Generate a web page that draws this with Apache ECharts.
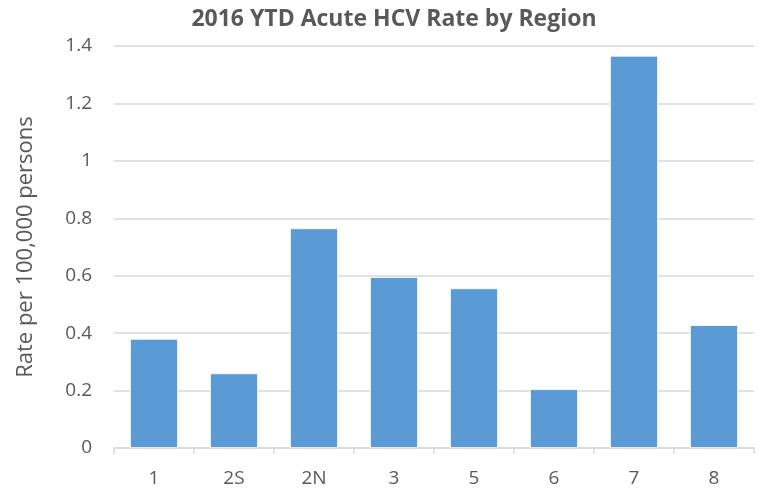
<!DOCTYPE html>
<html>
<head>
<meta charset="utf-8">
<script src="https://cdn.jsdelivr.net/npm/echarts@6/dist/echarts.min.js"></script>
<style>html,body{margin:0;padding:0;background:#fff;}#c{width:759px;height:500px;}</style>
</head>
<body>
<div id="c"></div>
<script>
var categories = ['1', '2S', '2N', '3', '5', '6', '7', '8'];
var rates = [0.38, 0.26, 0.765, 0.595, 0.556, 0.205, 1.366, 0.428];
var yTicks = { min: 0, max: 1.4, interval: 0.2 };
var titleText = '2016 YTD Acute HCV Rate by Region';
var yName = 'Rate per 100,000 persons';

var chart = echarts.init(document.getElementById('c'), null, { renderer: 'canvas' });
chart.setOption({
  animation: false,
  backgroundColor: '#fff',
  title: {
    text: titleText,
    left: 389, top: 3, textAlign: 'center',
    textStyle: { fontFamily: 'Open Sans', fontWeight: 'bold', fontSize: 23, color: '#595959' }
  },
  grid: { left: 114, right: 5, top: 46, bottom: 52, containLabel: false },
  xAxis: {
    type: 'category',
    data: categories,
    axisLine: { show: true, lineStyle: { color: '#d9d9d9', width: 1.5 } },
    axisTick: { show: true, length: 6, lineStyle: { color: '#d9d9d9', width: 1.5 } },
    axisLabel: { color: '#595959', fontFamily: 'Open Sans', fontSize: 19, margin: 21 }
  },
  yAxis: {
    type: 'value',
    min: yTicks.min, max: yTicks.max, interval: yTicks.interval,
    name: yName,
    nameLocation: 'middle',
    nameGap: 77,
    nameTextStyle: { color: '#595959', fontFamily: 'Open Sans', fontSize: 22 },
    axisLine: { show: false },
    axisTick: { show: false },
    splitLine: { lineStyle: { color: '#d9d9d9', width: 1.5 } },
    axisLabel: {
      color: '#595959', fontFamily: 'Open Sans', fontSize: 19, margin: 22,
      formatter: function (v) { return String(Math.round(v * 10) / 10); }
    }
  },
  series: [{
    type: 'bar',
    data: rates,
    barCategoryGap: '40%',
    itemStyle: { color: '#5b9bd5', borderColor: '#ffffff', borderWidth: 0.8 }
  }]
});
</script>
</body>
</html>
